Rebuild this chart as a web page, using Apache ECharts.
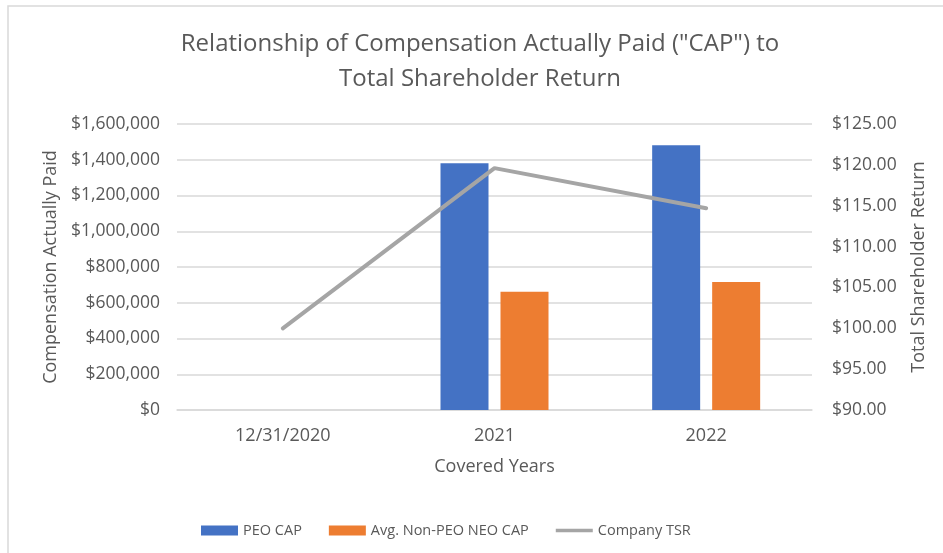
<!DOCTYPE html>
<html>
<head>
<meta charset="utf-8">
<script src="https://cdn.jsdelivr.net/npm/echarts@6/dist/echarts.min.js"></script>
<style>
  html, body { margin: 0; padding: 0; background: #ffffff; }
  #chart { width: 943px; height: 553px; }
</style>
</head>
<body>
<div id="chart"></div>
<script>
// categories and values
var years = ['12/31/2020', '2021', '2022'];
var peoCap = [null, 1380000, 1481000];
var neoCap = [null, 662000, 716000];
var companyTsr = [100.0, 119.6, 114.7];

var leftTicks = { min: 0, max: 1600000, interval: 200000 };
var rightTicks = { min: 90, max: 125, interval: 5 };

var grey = '#595959';
var font = 'Open Sans';

var chart = echarts.init(document.getElementById('chart'));

var option = {
    backgroundColor: '#ffffff',
    textStyle: { fontFamily: font },
    graphic: [{
        type: 'rect',
        shape: { x: 8, y: 6, width: 1000, height: 600 },
        style: { fill: 'none', stroke: '#d9d9d9', lineWidth: 1.5 },
        silent: true
    }],
    title: {
        text: 'Relationship of Compensation Actually Paid ("CAP") to\nTotal Shareholder Return',
        left: 480,
        top: 27,
        padding: 0,
        textAlign: 'center',
        textStyle: {
            fontFamily: font,
            fontSize: 24,
            fontWeight: 'normal',
            color: grey,
            lineHeight: 35
        }
    },
    legend: {
        left: 196,
        top: 518,
        itemWidth: 37,
        itemHeight: 10,
        itemGap: 27,
        textStyle: { fontFamily: font, fontSize: 14.5, color: grey },
        data: [
            { name: 'PEO CAP', icon: 'rect' },
            { name: 'Avg. Non-PEO NEO CAP', icon: 'rect' },
            // a thin bar in the middle of the icon box, like the line key
            { name: 'Company TSR', icon: 'path://M0,0 M0,10 M0,3 H40 V7 H0 Z' }
        ]
    },
    grid: { left: 177, right: 131, top: 124, bottom: 143 },
    xAxis: {
        type: 'category',
        data: years,
        name: 'Covered Years',
        nameLocation: 'middle',
        nameGap: 48,
        nameTextStyle: { fontFamily: font, fontSize: 18, color: grey },
        axisLine: { lineStyle: { color: '#d9d9d9', width: 1.5 } },
        axisTick: { show: false },
        axisLabel: { fontFamily: font, fontSize: 18, color: grey, margin: 17 }
    },
    yAxis: [{
        type: 'value',
        min: leftTicks.min,
        max: leftTicks.max,
        interval: leftTicks.interval,
        name: 'Compensation Actually Paid',
        nameLocation: 'middle',
        nameGap: 117,
        nameTextStyle: { fontFamily: font, fontSize: 18, color: grey },
        axisLine: { show: false },
        axisTick: { show: false },
        splitLine: { lineStyle: { color: '#d9d9d9', width: 1.5 } },
        axisLabel: {
            fontFamily: font, fontSize: 17.5, color: grey, margin: 17,
            formatter: function (v) { return '$' + v.toLocaleString('en-US'); }
        }
    }, {
        type: 'value',
        min: rightTicks.min,
        max: rightTicks.max,
        interval: rightTicks.interval,
        name: 'Total Shareholder Return',
        nameLocation: 'middle',
        nameGap: 98,
        nameTextStyle: { fontFamily: font, fontSize: 18, color: grey },
        axisLine: { show: false },
        axisTick: { show: false },
        splitLine: { show: false },
        axisLabel: {
            fontFamily: font, fontSize: 17.5, color: grey, margin: 20,
            formatter: function (v) { return '$' + v.toFixed(2); }
        }
    }],
    series: [{
        name: 'PEO CAP',
        type: 'bar',
        data: peoCap,
        barWidth: 48,
        barGap: '25%',
        itemStyle: { color: '#4472c4' }
    }, {
        name: 'Avg. Non-PEO NEO CAP',
        type: 'bar',
        data: neoCap,
        barWidth: 48,
        barGap: '25%',
        itemStyle: { color: '#ed7d31' }
    }, {
        name: 'Company TSR',
        type: 'line',
        yAxisIndex: 1,
        data: companyTsr,
        showSymbol: false,
        symbol: 'none',
        lineStyle: { color: '#a5a5a5', width: 4, cap: 'round' },
        itemStyle: { color: '#a5a5a5' }
    }]
};

chart.setOption(option);
</script>
</body>
</html>
